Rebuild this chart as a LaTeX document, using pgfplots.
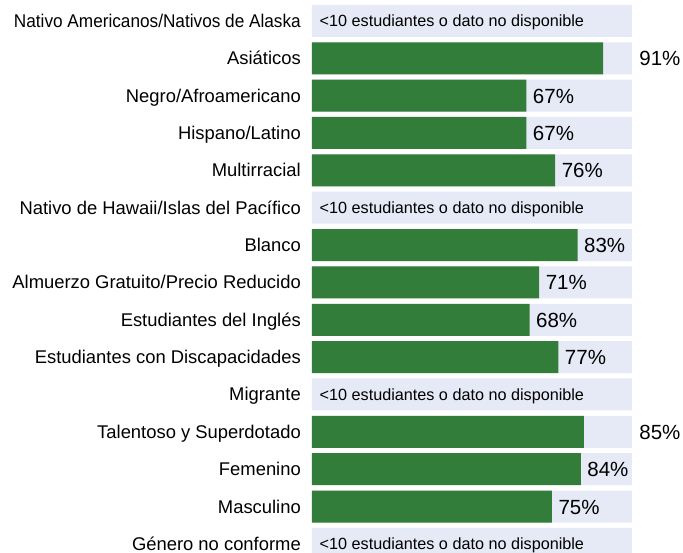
\documentclass[border=0pt]{standalone}
\usepackage{pgfplots}
\pgfplotsset{compat=1.18}
\usepackage{graphicx}
\usepackage{fontspec}
\setmainfont{Liberation Sans}
\definecolor{barbg}{RGB}{230,233,246}
\definecolor{bargreen}{RGB}{50,125,57}
\begin{document}
\begin{tikzpicture}
\begin{axis}[
  name=ax, at={(0,0)}, anchor=south west,
  scale only axis, width=320pt, height=553pt,
  xmin=0, xmax=100, ymin=0.4406, ymax=15.243, y dir=reverse,
  axis line style={draw=none}, major tick length=0pt, xtick=\empty,
  ytick={1,...,15},
  yticklabels={\scalebox{0.935}[1]{Nativo Americanos/Nativos de Alaska}, Asiáticos, Negro/Afroamericano, Hispano/Latino, Multirracial, Nativo de Hawaii/Islas del Pacífico, Blanco, Almuerzo Gratuito/Precio Reducido, Estudiantes del Inglés, Estudiantes con Discapacidades, Migrante, Talentoso y Superdotado, Femenino, Masculino, Género no conforme},
  yticklabel style={font=\fontsize{18.4}{22}\selectfont, anchor=base east, inner sep=0pt, yshift=-6.5pt, xshift=-11pt},
  clip=false,
]
% background bars (100%)
\addplot[xbar, bar width=32pt, bar shift=0pt, fill=barbg, draw=none] coordinates {
(100,1) (100,2) (100,3) (100,4) (100,5) (100,6) (100,7) (100,8) (100,9) (100,10) (100,11) (100,12) (100,13) (100,14) (100,15)
};
% values
\addplot[xbar, bar width=32pt, bar shift=0pt, fill=bargreen, draw=none] coordinates {
(91,2) (67,3) (67,4) (76,5) (83,7) (71,8) (68,9) (77,10) (85,12) (84,13) (75,14)
};
% percentage labels
\addplot[draw=none, mark=none, nodes near coords, point meta=explicit symbolic,
  nodes near coords style={anchor=base west, inner sep=0pt, yshift=-7.5pt, font=\fontsize{20.5}{24}\selectfont, text=black}] coordinates {
(102.25,2) [91\%] (69,3) [67\%] (69,4) [67\%] (78,5) [76\%] (85,7) [83\%] (73,8) [71\%] (70,9) [68\%] (79,10) [77\%] (102.25,12) [85\%] (86,13) [84\%] (77,14) [75\%]
};
% not available labels
\addplot[draw=none, mark=none, nodes near coords, point meta=explicit symbolic,
  nodes near coords style={anchor=base west, inner sep=0pt, yshift=-6pt, font=\fontsize{16.2}{19}\selectfont, text=black}] coordinates {
(2.34,1) [<10 estudiantes o dato no disponible] (2.34,6) [<10 estudiantes o dato no disponible] (2.34,11) [<10 estudiantes o dato no disponible] (2.34,15) [<10 estudiantes o dato no disponible]
};
\end{axis}
\pgfresetboundingbox
\path ([xshift=-312pt]ax.south west) rectangle ([xshift=51pt]ax.north east);
\end{tikzpicture}
\end{document}
